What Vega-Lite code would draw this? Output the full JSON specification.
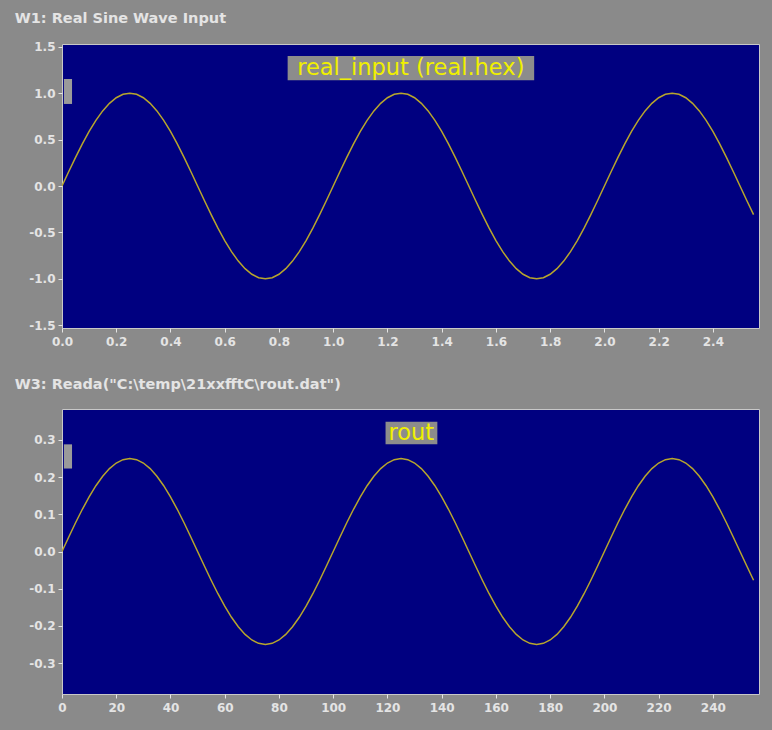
{
"$schema": "https://vega.github.io/schema/vega-lite/v6.json",
"background": "#8a8a8a",
"padding": {"left": 14, "top": 10, "right": 13, "bottom": 17},
"spacing": 28,
"datasets": {"sig": [
{"t":0,"n":0,"real":0,"rout":0},
{"t":0.025,"n":2.5,"real":0.1564,"rout":0.0391},
{"t":0.05,"n":5,"real":0.309,"rout":0.0773},
{"t":0.075,"n":7.5,"real":0.454,"rout":0.1135},
{"t":0.1,"n":10,"real":0.5878,"rout":0.147},
{"t":0.125,"n":12.5,"real":0.7071,"rout":0.1768},
{"t":0.15,"n":15,"real":0.809,"rout":0.2023},
{"t":0.175,"n":17.5,"real":0.891,"rout":0.2228},
{"t":0.2,"n":20,"real":0.9511,"rout":0.2378},
{"t":0.225,"n":22.5,"real":0.9877,"rout":0.2469},
{"t":0.25,"n":25,"real":1,"rout":0.25},
{"t":0.275,"n":27.5,"real":0.9877,"rout":0.2469},
{"t":0.3,"n":30,"real":0.9511,"rout":0.2378},
{"t":0.325,"n":32.5,"real":0.891,"rout":0.2228},
{"t":0.35,"n":35,"real":0.809,"rout":0.2023},
{"t":0.375,"n":37.5,"real":0.7071,"rout":0.1768},
{"t":0.4,"n":40,"real":0.5878,"rout":0.147},
{"t":0.425,"n":42.5,"real":0.454,"rout":0.1135},
{"t":0.45,"n":45,"real":0.309,"rout":0.0773},
{"t":0.475,"n":47.5,"real":0.1564,"rout":0.0391},
{"t":0.5,"n":50,"real":0,"rout":0},
{"t":0.525,"n":52.5,"real":-0.1564,"rout":-0.0391},
{"t":0.55,"n":55,"real":-0.309,"rout":-0.0773},
{"t":0.575,"n":57.5,"real":-0.454,"rout":-0.1135},
{"t":0.6,"n":60,"real":-0.5878,"rout":-0.147},
{"t":0.625,"n":62.5,"real":-0.7071,"rout":-0.1768},
{"t":0.65,"n":65,"real":-0.809,"rout":-0.2023},
{"t":0.675,"n":67.5,"real":-0.891,"rout":-0.2228},
{"t":0.7,"n":70,"real":-0.9511,"rout":-0.2378},
{"t":0.725,"n":72.5,"real":-0.9877,"rout":-0.2469},
{"t":0.75,"n":75,"real":-1,"rout":-0.25},
{"t":0.775,"n":77.5,"real":-0.9877,"rout":-0.2469},
{"t":0.8,"n":80,"real":-0.9511,"rout":-0.2378},
{"t":0.825,"n":82.5,"real":-0.891,"rout":-0.2228},
{"t":0.85,"n":85,"real":-0.809,"rout":-0.2023},
{"t":0.875,"n":87.5,"real":-0.7071,"rout":-0.1768},
{"t":0.9,"n":90,"real":-0.5878,"rout":-0.147},
{"t":0.925,"n":92.5,"real":-0.454,"rout":-0.1135},
{"t":0.95,"n":95,"real":-0.309,"rout":-0.0773},
{"t":0.975,"n":97.5,"real":-0.1564,"rout":-0.0391},
{"t":1,"n":100,"real":0,"rout":0},
{"t":1.025,"n":102.5,"real":0.1564,"rout":0.0391},
{"t":1.05,"n":105,"real":0.309,"rout":0.0773},
{"t":1.075,"n":107.5,"real":0.454,"rout":0.1135},
{"t":1.1,"n":110,"real":0.5878,"rout":0.147},
{"t":1.125,"n":112.5,"real":0.7071,"rout":0.1768},
{"t":1.15,"n":115,"real":0.809,"rout":0.2023},
{"t":1.175,"n":117.5,"real":0.891,"rout":0.2228},
{"t":1.2,"n":120,"real":0.9511,"rout":0.2378},
{"t":1.225,"n":122.5,"real":0.9877,"rout":0.2469},
{"t":1.25,"n":125,"real":1,"rout":0.25},
{"t":1.275,"n":127.5,"real":0.9877,"rout":0.2469},
{"t":1.3,"n":130,"real":0.9511,"rout":0.2378},
{"t":1.325,"n":132.5,"real":0.891,"rout":0.2228},
{"t":1.35,"n":135,"real":0.809,"rout":0.2023},
{"t":1.375,"n":137.5,"real":0.7071,"rout":0.1768},
{"t":1.4,"n":140,"real":0.5878,"rout":0.147},
{"t":1.425,"n":142.5,"real":0.454,"rout":0.1135},
{"t":1.45,"n":145,"real":0.309,"rout":0.0773},
{"t":1.475,"n":147.5,"real":0.1564,"rout":0.0391},
{"t":1.5,"n":150,"real":0,"rout":0},
{"t":1.525,"n":152.5,"real":-0.1564,"rout":-0.0391},
{"t":1.55,"n":155,"real":-0.309,"rout":-0.0773},
{"t":1.575,"n":157.5,"real":-0.454,"rout":-0.1135},
{"t":1.6,"n":160,"real":-0.5878,"rout":-0.147},
{"t":1.625,"n":162.5,"real":-0.7071,"rout":-0.1768},
{"t":1.65,"n":165,"real":-0.809,"rout":-0.2023},
{"t":1.675,"n":167.5,"real":-0.891,"rout":-0.2228},
{"t":1.7,"n":170,"real":-0.9511,"rout":-0.2378},
{"t":1.725,"n":172.5,"real":-0.9877,"rout":-0.2469},
{"t":1.75,"n":175,"real":-1,"rout":-0.25},
{"t":1.775,"n":177.5,"real":-0.9877,"rout":-0.2469},
{"t":1.8,"n":180,"real":-0.9511,"rout":-0.2378},
{"t":1.825,"n":182.5,"real":-0.891,"rout":-0.2228},
{"t":1.85,"n":185,"real":-0.809,"rout":-0.2023},
{"t":1.875,"n":187.5,"real":-0.7071,"rout":-0.1768},
{"t":1.9,"n":190,"real":-0.5878,"rout":-0.147},
{"t":1.925,"n":192.5,"real":-0.454,"rout":-0.1135},
{"t":1.95,"n":195,"real":-0.309,"rout":-0.0773},
{"t":1.975,"n":197.5,"real":-0.1564,"rout":-0.0391},
{"t":2,"n":200,"real":0,"rout":0},
{"t":2.025,"n":202.5,"real":0.1564,"rout":0.0391},
{"t":2.05,"n":205,"real":0.309,"rout":0.0773},
{"t":2.075,"n":207.5,"real":0.454,"rout":0.1135},
{"t":2.1,"n":210,"real":0.5878,"rout":0.147},
{"t":2.125,"n":212.5,"real":0.7071,"rout":0.1768},
{"t":2.15,"n":215,"real":0.809,"rout":0.2023},
{"t":2.175,"n":217.5,"real":0.891,"rout":0.2228},
{"t":2.2,"n":220,"real":0.9511,"rout":0.2378},
{"t":2.225,"n":222.5,"real":0.9877,"rout":0.2469},
{"t":2.25,"n":225,"real":1,"rout":0.25},
{"t":2.275,"n":227.5,"real":0.9877,"rout":0.2469},
{"t":2.3,"n":230,"real":0.9511,"rout":0.2378},
{"t":2.325,"n":232.5,"real":0.891,"rout":0.2228},
{"t":2.35,"n":235,"real":0.809,"rout":0.2023},
{"t":2.375,"n":237.5,"real":0.7071,"rout":0.1768},
{"t":2.4,"n":240,"real":0.5878,"rout":0.147},
{"t":2.425,"n":242.5,"real":0.454,"rout":0.1135},
{"t":2.45,"n":245,"real":0.309,"rout":0.0773},
{"t":2.475,"n":247.5,"real":0.1564,"rout":0.0391},
{"t":2.5,"n":250,"real":0,"rout":0},
{"t":2.525,"n":252.5,"real":-0.1564,"rout":-0.0391},
{"t":2.55,"n":255,"real":-0.309,"rout":-0.0773}
]},
"config": {
  "locale": {"number": {"decimal": ".", "thousands": ",", "grouping": [3], "currency": ["$", ""], "minus": "-"}},
  "view": {"fill": "#000080", "stroke": "#c8c8c8", "strokeWidth": 1},
  "axis": {"labelFont": "DejaVu Sans", "labelFontWeight": "bold", "labelFontSize": 12, "labelColor": "#e4e4e4", "tickColor": "#e4e4e4", "tickSize": 4, "domain": false, "grid": false, "labelFlush": false, "labelOverlap": false},
  "axisX": {"labelPadding": 4},
  "axisY": {"labelPadding": 3},
  "title": {"font": "DejaVu Sans", "fontWeight": "bold", "fontSize": 14.5, "color": "#e4e4e4", "anchor": "start"}
},
"vconcat": [
{
  "title": {"text": "W1: Real Sine Wave Input", "anchor": "start", "dx": -14, "offset": 14},
  "width": 697, "height": 284,
  "layer": [
    {"data": {"values": [{}]}, "mark": {"type": "rect", "color": "#9a9a9a"},
     "encoding": {"x": {"datum": 0.007, "type": "quantitative"}, "x2": {"datum": 0.037}, "y": {"datum": 1.153, "type": "quantitative"}, "y2": {"datum": 0.884}}},
    {"data": {"name": "sig"}, "mark": {"type": "line", "color": "#b8a62c", "strokeWidth": 1.5, "clip": true},
     "encoding": {
       "x": {"field": "t", "type": "quantitative", "scale": {"domain": [0, 2.57], "nice": false, "zero": false},
             "axis": {"title": null, "values": [0, 0.2, 0.4, 0.6, 0.8, 1.0, 1.2, 1.4, 1.6, 1.8, 2.0, 2.2, 2.4], "format": ".1f"}},
       "y": {"field": "real", "type": "quantitative", "scale": {"domain": [-1.53, 1.53], "nice": false, "zero": false},
             "axis": {"title": null, "values": [-1.5, -1, -0.5, 0, 0.5, 1, 1.5], "format": ".1f"}}
     }},
    {"data": {"values": [{}]}, "mark": {"type": "rect", "color": "#8c8c8c"},
     "encoding": {"x": {"datum": 0.832, "type": "quantitative"}, "x2": {"datum": 1.741}, "y": {"datum": 1.40, "type": "quantitative"}, "y2": {"datum": 1.14}}},
    {"data": {"values": [{}]}, "mark": {"type": "text", "color": "#f0f000", "font": "DejaVu Sans", "fontSize": 22.5},
     "encoding": {"x": {"datum": 1.286, "type": "quantitative"}, "y": {"datum": 1.27, "type": "quantitative"}, "text": {"value": "real_input (real.hex)"}}}
  ]
},
{
  "title": {"text": "W3: Reada(\"C:\\temp\\21xxfftC\\rout.dat\")", "anchor": "start", "dx": -14, "offset": 17},
  "width": 697, "height": 285,
  "layer": [
    {"data": {"values": [{}]}, "mark": {"type": "rect", "color": "#9a9a9a"},
     "encoding": {"x": {"datum": 0.7, "type": "quantitative"}, "x2": {"datum": 3.7}, "y": {"datum": 0.288, "type": "quantitative"}, "y2": {"datum": 0.223}}},
    {"data": {"name": "sig"}, "mark": {"type": "line", "color": "#b8a62c", "strokeWidth": 1.5, "clip": true},
     "encoding": {
       "x": {"field": "n", "type": "quantitative", "scale": {"domain": [0, 257], "nice": false, "zero": false},
             "axis": {"title": null, "values": [0, 20, 40, 60, 80, 100, 120, 140, 160, 180, 200, 220, 240], "format": "d"}},
       "y": {"field": "rout", "type": "quantitative", "scale": {"domain": [-0.383, 0.383], "nice": false, "zero": false},
             "axis": {"title": null, "values": [-0.3, -0.2, -0.1, 0, 0.1, 0.2, 0.3], "format": ".1f"}}
     }},
    {"data": {"values": [{}]}, "mark": {"type": "rect", "color": "#8c8c8c"},
     "encoding": {"x": {"datum": 119.3, "type": "quantitative"}, "x2": {"datum": 138.4}, "y": {"datum": 0.349, "type": "quantitative"}, "y2": {"datum": 0.288}}},
    {"data": {"values": [{}]}, "mark": {"type": "text", "color": "#f0f000", "font": "DejaVu Sans", "fontSize": 22.5},
     "encoding": {"x": {"datum": 128.8, "type": "quantitative"}, "y": {"datum": 0.318, "type": "quantitative"}, "text": {"value": "rout"}}}
  ]
}
]
}
